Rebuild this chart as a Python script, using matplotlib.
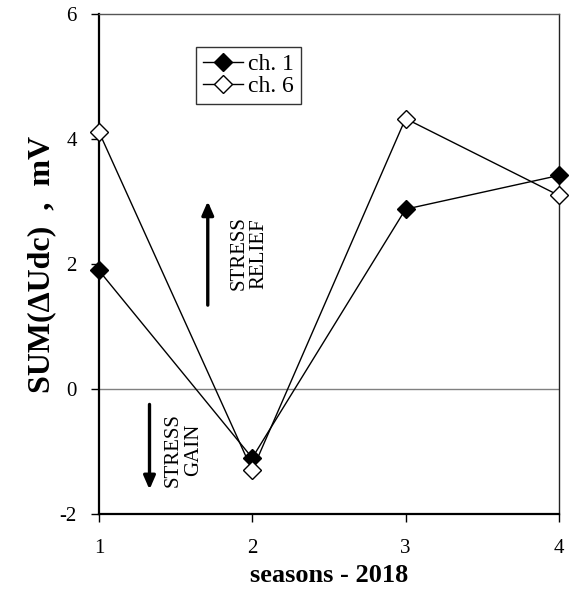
import matplotlib
matplotlib.use("Agg")
import matplotlib.pyplot as plt

plt.rcParams["font.family"] = ["Liberation Serif", "DejaVu Serif"]
plt.rcParams["axes.unicode_minus"] = False

seasons = [1, 2, 3, 4]
ch1 = [1.9, -1.1, 2.88, 3.42]
ch6 = [4.12, -1.3, 4.33, 3.1]

fig = plt.figure(figsize=(5.75, 5.93), dpi=100)
ax = fig.add_axes([0.172, 0.133, 0.8, 0.843])

ax.axhline(0, color="#808080", lw=1.0, zorder=1)
ax.plot(seasons, ch1, "-", color="black", lw=1.0, marker="D", ms=9,
        mfc="black", mec="black", clip_on=False, label="ch. 1", zorder=3)
ax.plot(seasons, ch6, "-", color="black", lw=1.0, marker="D", ms=9,
        mfc="white", mec="black", mew=1.0, clip_on=False, label="ch. 6", zorder=3)

ax.set_xlim(1, 4)
ax.set_ylim(-2, 6)
ax.set_xticks(seasons)
ax.set_yticks([-2, 0, 2, 4, 6])
ax.tick_params(direction="out", length=6, width=1.0, labelsize=15)
ax.tick_params(axis="y", pad=10)
ax.tick_params(axis="x", pad=12)
for s in ax.spines.values():
    s.set_linewidth(1.0)
ax.spines["top"].set_color("#555555")
ax.spines["right"].set_color("#222222")
ax.spines["left"].set_linewidth(1.6)
ax.spines["bottom"].set_linewidth(1.6)

ax.set_xlabel("seasons - 2018", fontsize=19, fontweight="bold", labelpad=4)
ax.set_ylabel("SUM(\u0394Udc)  ,  mV", fontsize=23, fontweight="bold", labelpad=2)

# stress arrows
ax.annotate("", xy=(1.71, 3.05), xytext=(1.71, 1.3),
            arrowprops=dict(arrowstyle="-|>,head_length=0.8,head_width=0.35",
                            lw=2.4, color="black"))
ax.text(1.98, 2.17, "STRESS\nRELIEF", rotation=90, ha="center", va="center",
        fontsize=15, linespacing=1.1)
ax.annotate("", xy=(1.33, -1.65), xytext=(1.33, -0.2),
            arrowprops=dict(arrowstyle="-|>,head_length=0.8,head_width=0.35",
                            lw=2.4, color="black"))
ax.text(1.55, -0.97, "STRESS\nGAIN", rotation=90, ha="center", va="center",
        fontsize=15, linespacing=1.1)

leg = ax.legend(loc="upper left", bbox_to_anchor=(0.211, 0.935), fontsize=17,
                frameon=True, fancybox=False, edgecolor="black",
                handlelength=1.7, borderpad=0.3, labelspacing=0.0,
                handletextpad=0.2, borderaxespad=0)
leg.get_frame().set_linewidth(1.0)

fig.savefig("out.png", dpi=100)
